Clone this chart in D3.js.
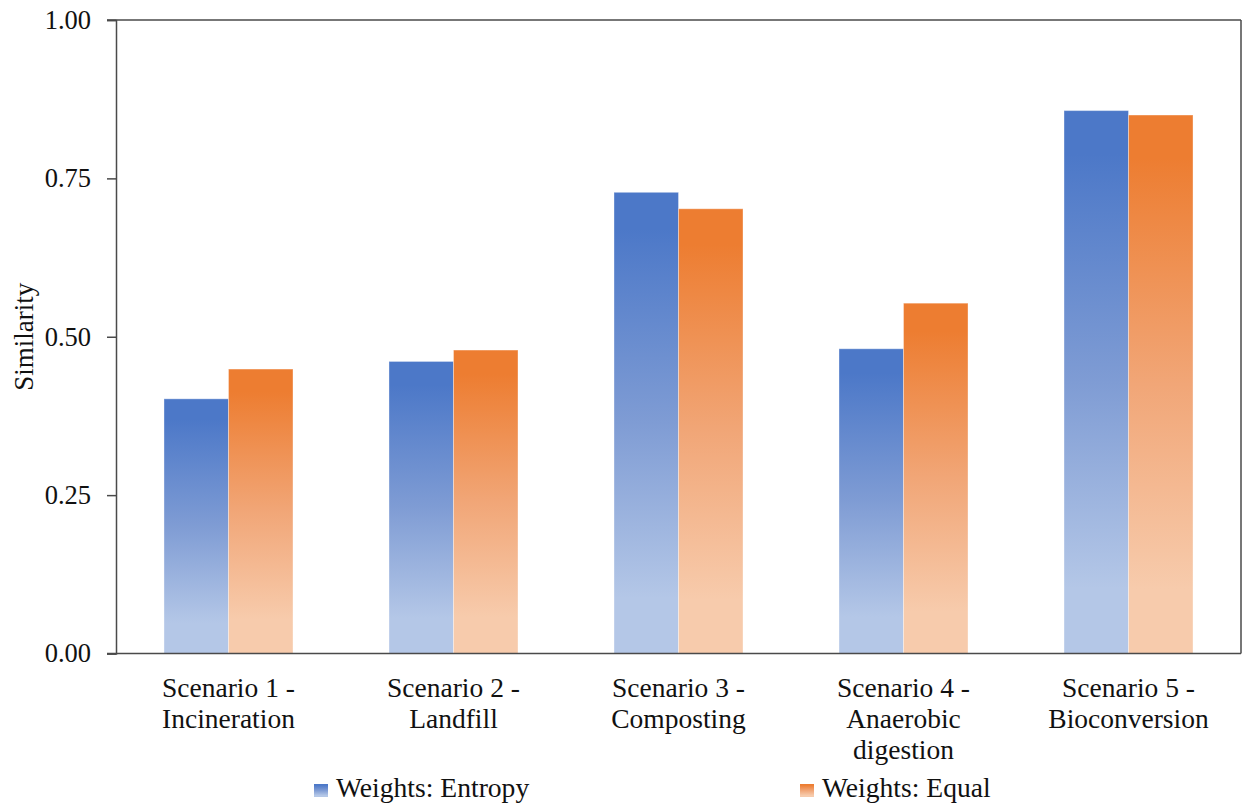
<!DOCTYPE html>
<html>
<head>
<meta charset="utf-8">
<script src="https://cdn.jsdelivr.net/npm/d3@7/dist/d3.min.js"></script>
<style>
  html, body { margin: 0; padding: 0; background: #fff; }
  svg { display: block; }
  text { font-family: "Liberation Serif", "Times New Roman", serif; fill: #111; }
</style>
</head>
<body>
<svg id="chart" width="1244" height="810"></svg>
<script>
// Chart data
const categories = [
  ["Scenario 1 -", "Incineration"],
  ["Scenario 2 -", "Landfill"],
  ["Scenario 3 -", "Composting"],
  ["Scenario 4 -", "Anaerobic", "digestion"],
  ["Scenario 5 -", "Bioconversion"]
];
const seriesNames = ["Weights: Entropy", "Weights: Equal"];
const entropyValues = [0.402, 0.461, 0.728, 0.481, 0.857];
const equalValues   = [0.449, 0.479, 0.702, 0.553, 0.850];
const yTicks = [0, 0.25, 0.5, 0.75, 1.0];
const yTitle = "Similarity";

const series = [entropyValues, equalValues];
const gradients = [
  { id: "gradEntropy", top: "#4c78c8", mid: "#7f9cd4", bottom: "#b4c7e7" },
  { id: "gradEqual",   top: "#ed7d31", mid: "#f1a677", bottom: "#f7cbac" }
];

const svg = d3.select("#chart");
const margin = { left: 116, right: 3, top: 20, bottom: 156.5 };
const W = 1244, H = 810;
const plotW = W - margin.left - margin.right;
const plotH = H - margin.top - margin.bottom;

// Vertical gradients, one per series, spanning each bar
const defs = svg.append("defs");
gradients.forEach(g => {
  const lg = defs.append("linearGradient")
    .attr("id", g.id)
    .attr("x1", 0).attr("y1", 0).attr("x2", 0).attr("y2", 1);
  lg.append("stop").attr("offset", "0%").attr("stop-color", g.top);
  lg.append("stop").attr("offset", "8%").attr("stop-color", g.top);
  lg.append("stop").attr("offset", "50%").attr("stop-color", g.mid);
  lg.append("stop").attr("offset", "88%").attr("stop-color", g.bottom);
  lg.append("stop").attr("offset", "100%").attr("stop-color", g.bottom);
});

const catKeys = categories.map(c => c.join(" "));
const x0 = d3.scaleBand()
  .domain(catKeys)
  .range([margin.left, margin.left + plotW])
  .paddingInner(0.4267)
  .paddingOuter(0.2133);
const x1 = d3.scaleBand()
  .domain(d3.range(series.length))
  .range([0, x0.bandwidth()])
  .padding(0);
const y = d3.scaleLinear()
  .domain([0, 1])
  .range([margin.top + plotH, margin.top]);

const axisColor = "#4a4a4a";

// Bars
const groups = svg.append("g").selectAll("g")
  .data(catKeys)
  .join("g")
  .attr("transform", d => `translate(${x0(d)},0)`);

groups.selectAll("rect")
  .data((d, i) => series.map((s, k) => ({ k, v: s[i] })))
  .join("rect")
  .attr("x", d => x1(d.k))
  .attr("width", x1.bandwidth())
  .attr("y", d => y(d.v))
  .attr("height", d => y(0) - y(d.v))
  .attr("fill", d => `url(#${gradients[d.k].id})`)
  .attr("stroke", "rgba(255,255,255,0.35)")
  .attr("stroke-width", 1);

// Y axis
const yAxis = d3.axisLeft(y)
  .tickValues(yTicks)
  .tickFormat(d3.format(".2f"))
  .tickSize(9)
  .tickPadding(16);
const yg = svg.append("g")
  .attr("transform", `translate(${margin.left},0)`)
  .call(yAxis);
yg.select(".domain").attr("stroke", axisColor).attr("stroke-width", 1.5);
yg.selectAll(".tick line").attr("stroke", axisColor).attr("stroke-width", 1.5);
yg.selectAll(".tick text")
  .attr("font-size", 26.5)
  .attr("font-family", "Liberation Serif, Times New Roman, serif")
  .attr("fill", "#111");

// Frame: baseline, top and right edges
svg.append("line")
  .attr("x1", margin.left - 9).attr("x2", margin.left + plotW)
  .attr("y1", y(0)).attr("y2", y(0))
  .attr("stroke", axisColor).attr("stroke-width", 1.5);
svg.append("line")
  .attr("x1", margin.left - 9).attr("x2", margin.left + plotW)
  .attr("y1", y(1)).attr("y2", y(1))
  .attr("stroke", axisColor).attr("stroke-width", 1.5);
svg.append("line")
  .attr("x1", margin.left + plotW).attr("x2", margin.left + plotW)
  .attr("y1", y(1)).attr("y2", y(0))
  .attr("stroke", axisColor).attr("stroke-width", 1.5);

// Category labels
const catLabels = svg.append("g").selectAll("text")
  .data(categories)
  .join("text")
  .attr("text-anchor", "middle")
  .attr("font-size", 27.5)
  .attr("x", (d, i) => x0(catKeys[i]) + x0.bandwidth() / 2)
  .attr("y", 697);
catLabels.selectAll("tspan")
  .data(d => d)
  .join("tspan")
  .attr("x", function () { return d3.select(this.parentNode).attr("x"); })
  .attr("dy", (d, i) => i === 0 ? 0 : 31)
  .text(d => d);

// Y title
svg.append("text")
  .attr("transform", `translate(33, ${y(0.5)}) rotate(-90)`)
  .attr("text-anchor", "middle")
  .attr("font-size", 27)
  .text(yTitle);

// Legend
const legendX = [314, 800];
const legend = svg.append("g").selectAll("g")
  .data(seriesNames)
  .join("g")
  .attr("transform", (d, i) => `translate(${legendX[i]}, 784)`);
legend.append("rect")
  .attr("width", 14).attr("height", 13)
  .attr("fill", (d, i) => `url(#${gradients[i].id})`);
legend.append("text")
  .attr("x", 22).attr("y", 13)
  .attr("font-size", 27.6)
  .text(d => d);
</script>
</body>
</html>
